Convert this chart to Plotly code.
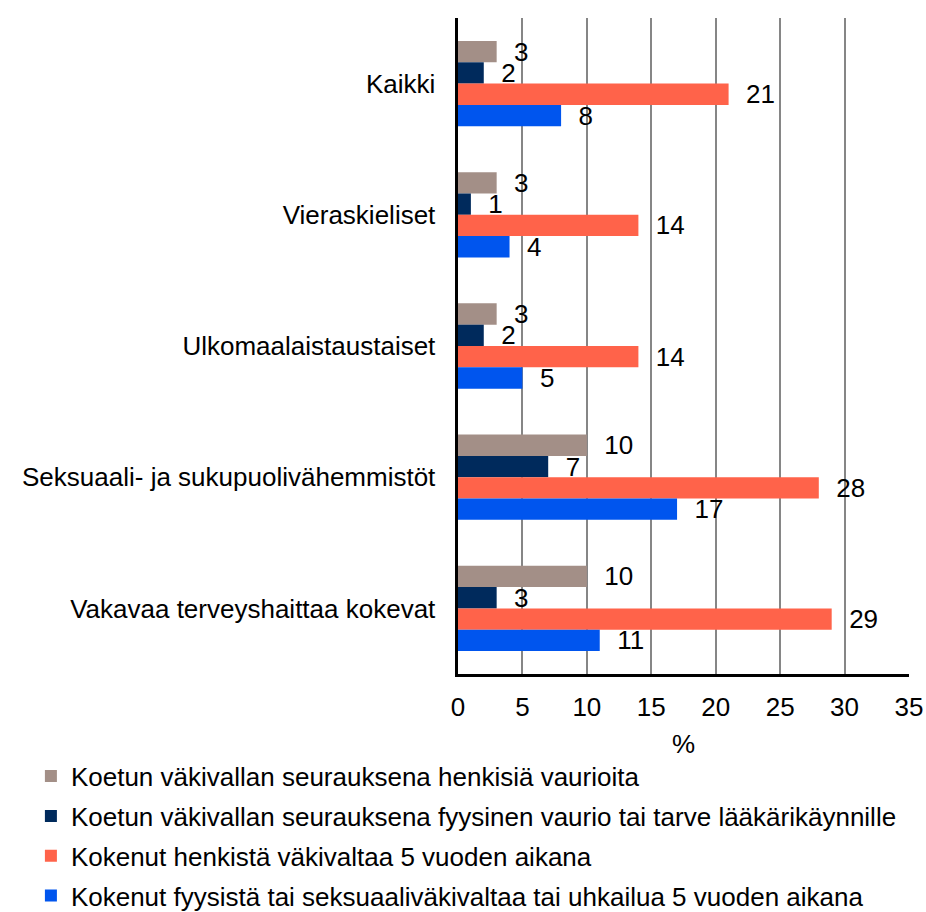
import plotly.graph_objects as go

categories = ["Kaikki", "Vieraskieliset", "Ulkomaalaistaustaiset",
              "Seksuaali- ja sukupuolivähemmistöt", "Vakavaa terveyshaittaa kokevat"]
series_names = [
    "Koetun väkivallan seurauksena henkisiä vaurioita",
    "Koetun väkivallan seurauksena fyysinen vaurio tai tarve lääkärikäynnille",
    "Kokenut henkistä väkivaltaa 5 vuoden aikana",
    "Kokenut fyysistä tai seksuaaliväkivaltaa tai uhkailua 5 vuoden aikana",
]
henkisia_vaurioita = [3, 3, 3, 10, 10]
fyysinen_vaurio = [2, 1, 2, 7, 3]
henkista_vakivaltaa = [21, 14, 14, 28, 29]
fyysista_vakivaltaa = [8, 4, 5, 17, 11]
x_ticks = [0, 5, 10, 15, 20, 25, 30, 35]

values = [henkisia_vaurioita, fyysinen_vaurio, henkista_vakivaltaa, fyysista_vakivaltaa]
colors = ["#A38F87", "#002A5C", "#FF634A", "#0055EE"]

FS = 26

fig = go.Figure()
for i, (name, vals, col) in enumerate(zip(series_names, values, colors)):
    fig.add_trace(go.Bar(
        y=categories, x=vals, name=name, orientation="h",
        marker=dict(color=col, line=dict(width=0)),
        text=vals, texttemplate="  %{x}", textposition="outside",
        textfont=dict(size=FS, color="black"), constraintext="none",
        cliponaxis=False, legendgroup=f"g{i}",
    ))

fig.update_layout(
    width=926, height=912,
    barmode="group", bargap=0.35, bargroupgap=0,
    plot_bgcolor="white", paper_bgcolor="white",
    font=dict(family="Liberation Sans, Arial, sans-serif", size=FS, color="black"),
    margin=dict(l=458, r=17, t=18, b=238, autoexpand=False),
    legend=dict(
        orientation="v", x=-0.947, xanchor="left", y=-0.120, yanchor="top",
        traceorder="grouped", tracegroupgap=3,
        font=dict(size=FS), itemwidth=30,
    ),
    xaxis=dict(
        range=[0, 35], tickvals=x_ticks, ticktext=[str(t) for t in x_ticks],
        showgrid=True, gridcolor="#868686", gridwidth=1.5,
        showline=True, linecolor="black", linewidth=3, mirror=False,
        zeroline=False, ticks="", tickfont=dict(size=FS), ticklabelstandoff=8,
        title=dict(text="%", font=dict(size=FS), standoff=14),
    ),
    yaxis=dict(
        autorange="reversed", showline=True, linecolor="black", linewidth=3,
        showgrid=False, ticks="", tickfont=dict(size=FS), ticksuffix="  ",
    ),
)

fig.write_html("out.html", config={"displayModeBar": False},
               post_script="document.body.style.margin='0';")
